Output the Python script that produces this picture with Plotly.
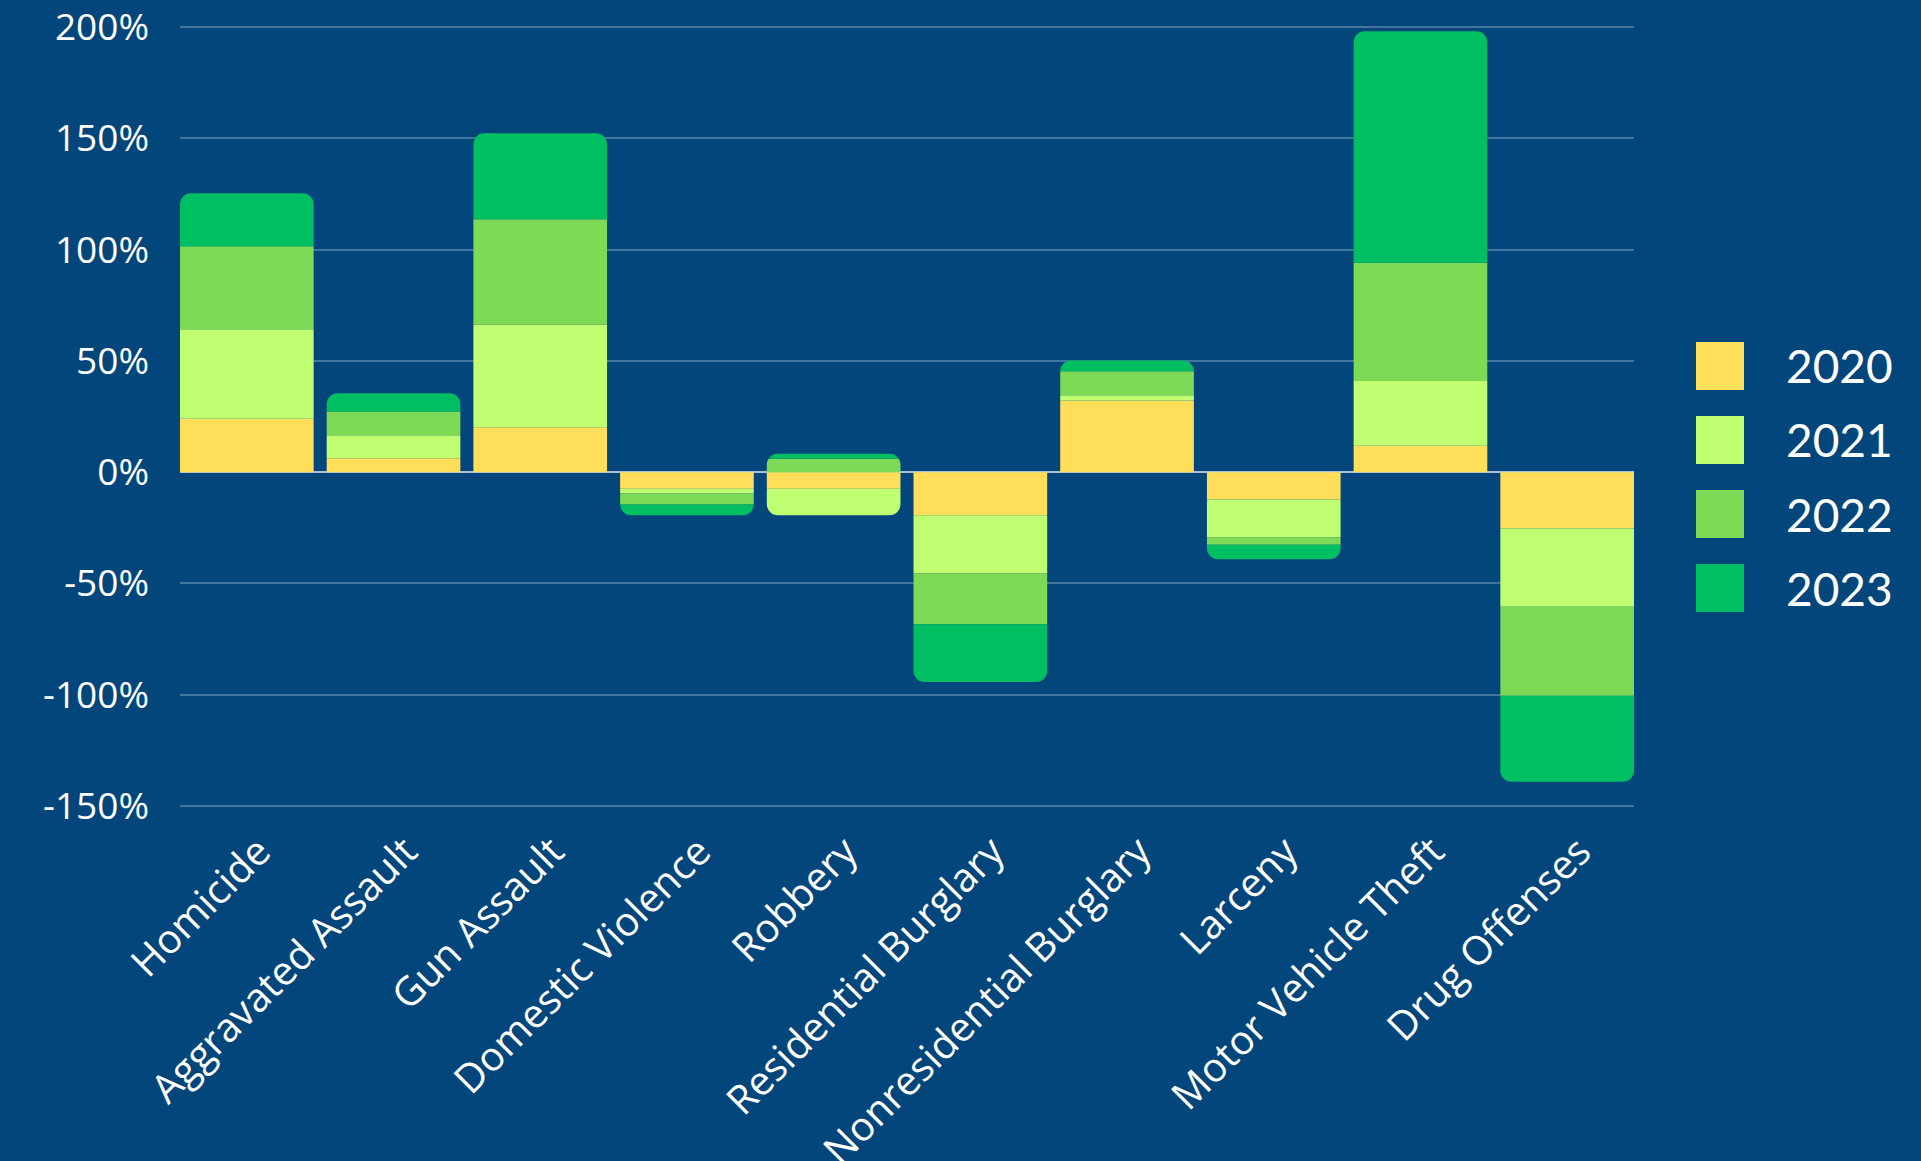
import plotly.graph_objects as go

categories = ["Homicide", "Aggravated Assault", "Gun Assault", "Domestic Violence",
              "Robbery", "Residential Burglary", "Nonresidential Burglary", "Larceny",
              "Motor Vehicle Theft", "Drug Offenses"]
years = ["2020", "2021", "2022", "2023"]
v2020 = [24.0, 6.2, 20.2, -7.5, -7.5, -19.4, 32.2, -12.3, 11.9, -25.3]
v2021 = [40.2, 10.4, 46.2, -2.1, -11.9, -26.2, 2.3, -17.1, 29.1, -35.2]
v2022 = [37.3, 10.7, 47.2, -5.0, 6.0, -22.8, 10.8, -3.2, 53.1, -40.0]
v2023 = [23.8, 8.1, 38.7, -4.8, 2.3, -25.9, 4.9, -6.5, 104.0, -38.6]
series = [v2020, v2021, v2022, v2023]
colors = ["#FFDE59", "#C1FF72", "#7ED957", "#00BF63"]
y_ticks = [-150, -100, -50, 0, 50, 100, 150, 200]
y_ticktext = [f"{v}%" for v in y_ticks]

W, H = 1921, 1161
ML, MR, MT, MB = 180, 287, 26, 354
PW, PH = W - ML - MR, H - MT - MB
BG = "#03467B"
GAP = 0.089

fig = go.Figure()
for name, vals, col in zip(years, series, colors):
    fig.add_trace(go.Bar(x=categories, y=vals, name=name, marker_color=col,
                         marker_line_width=0, showlegend=False))

def px_x(p):
    return (p - ML) / PW

def px_y(p):
    return 1 - (p - MT) / PH

shapes = []
annotations = []
for i, (name, col) in enumerate(zip(years, colors)):
    top = 342 + i * 74
    shapes.append(dict(type="rect", xref="paper", yref="paper",
                       x0=px_x(1696), x1=px_x(1744), y0=px_y(top + 48), y1=px_y(top),
                       fillcolor=col, line_width=0))
    annotations.append(dict(xref="paper", yref="paper", x=px_x(1784), y=px_y(top + 24),
                            xanchor="left", yanchor="middle", text=name, showarrow=False,
                            font=dict(family="Lato", size=46, color="white")))

fig.update_layout(
    width=W, height=H,
    margin=dict(l=ML, r=MR, t=MT, b=MB),
    paper_bgcolor=BG, plot_bgcolor=BG,
    barmode="relative", bargap=GAP, barcornerradius=11,
    font=dict(family="Open Sans", color="white"),
    shapes=shapes, annotations=annotations,
    xaxis=dict(tickangle=-45, tickfont=dict(size=40, color="white"),
               range=[-0.5 + GAP / 2, len(categories) - 0.5 - GAP / 2],
               showgrid=False, showline=False, ticks="", automargin=False,
               ticklabelstandoff=12, ticklabelshift=12),
    yaxis=dict(range=[-150.5, 200.5], tickvals=y_ticks, ticktext=y_ticktext,
               tickfont=dict(size=37, color="white"), automargin=False,
               ticklabeloverflow="allow",
               showgrid=True, gridcolor="rgba(255,255,255,0.25)", gridwidth=2,
               zeroline=True, zerolinecolor="#A9C1D8", zerolinewidth=2,
               ticklabelstandoff=30),
)

fig.write_html("out.html", config={"displayModeBar": False},
               post_script="document.body.style.margin='0';document.body.style.overflow='hidden';")
